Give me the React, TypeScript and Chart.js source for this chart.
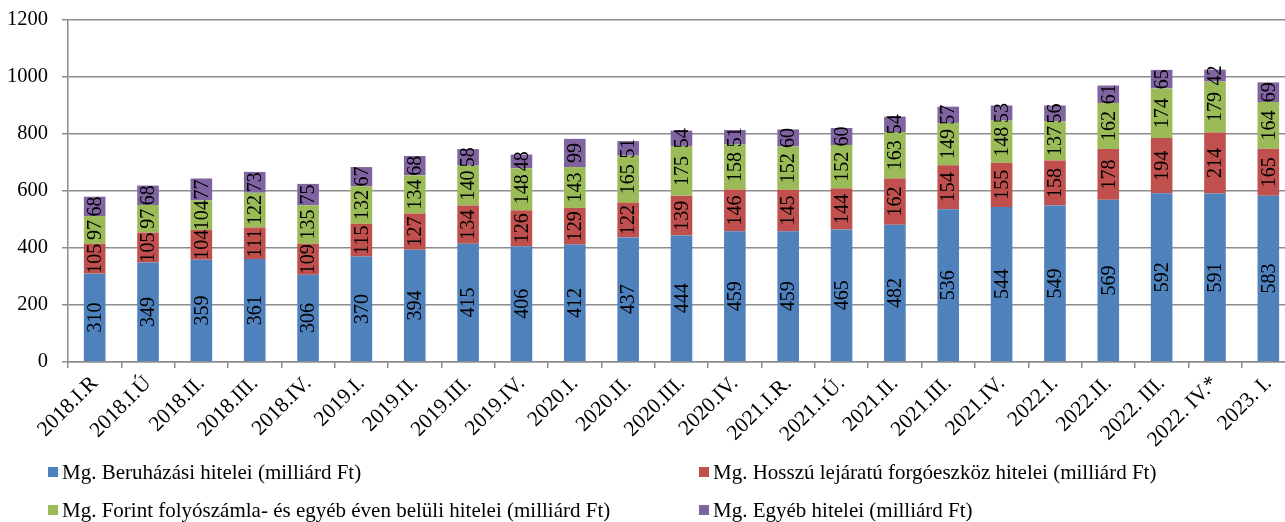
import React, { useEffect, useRef } from "react";
import { Chart, registerables } from "chart.js";

Chart.register(...registerables);

const categories = [
  "2018.I.R", "2018.I.Ú", "2018.II.", "2018.III.", "2018.IV.", "2019.I.", "2019.II.",
  "2019.III.", "2019.IV.", "2020.I.", "2020.II.", "2020.III.", "2020.IV.", "2021.I.R.",
  "2021.I.Ú.", "2021.II.", "2021.III.", "2021.IV.", "2022.I.", "2022.II.", "2022. III.",
  "2022. IV.*", "2023. I.",
];

const beruhazasi = [310, 349, 359, 361, 306, 370, 394, 415, 406, 412, 437, 444, 459, 459, 465, 482, 536, 544, 549, 569, 592, 591, 583];
const hosszu = [105, 105, 104, 111, 109, 115, 127, 134, 126, 129, 122, 139, 146, 145, 144, 162, 154, 155, 158, 178, 194, 214, 165];
const forint = [97, 97, 104, 122, 135, 132, 134, 140, 148, 143, 165, 175, 158, 152, 152, 163, 149, 148, 137, 162, 174, 179, 164];
const egyeb = [68, 68, 77, 73, 75, 67, 68, 58, 48, 99, 51, 54, 51, 60, 60, 54, 57, 53, 56, 61, 65, 42, 69];

const seriesNames = [
  "Mg. Beruházási hitelei (milliárd Ft)",
  "Mg. Hosszú lejáratú forgóeszköz hitelei (milliárd Ft)",
  "Mg. Forint folyószámla- és egyéb éven belüli hitelei (milliárd Ft)",
  "Mg. Egyéb hitelei (milliárd Ft)",
];
const seriesColors = ["#4F81BD", "#C0504D", "#9BBB59", "#8064A2"];

const yTicks = [0, 200, 400, 600, 800, 1000, 1200];

const FONT = "'Liberation Serif', 'Times New Roman', serif";

const labelPlugin = {
  id: "segLabels",
  afterDatasetsDraw(chart: any) {
    const ctx = chart.ctx;
    ctx.save();
    ctx.font = `20px ${FONT}`;
    ctx.fillStyle = "#000";
    ctx.textAlign = "center";
    ctx.textBaseline = "middle";
    chart.data.datasets.forEach((ds: any, di: number) => {
      const meta = chart.getDatasetMeta(di);
      meta.data.forEach((el: any, i: number) => {
        const v = ds.data[i];
        const cy = (el.y + el.base) / 2;
        ctx.save();
        ctx.translate(el.x, cy);
        ctx.rotate(-Math.PI / 2);
        ctx.fillText(String(v), 0, 1);
        ctx.restore();
      });
    });
    ctx.restore();
  },
};

const legendPlugin = {
  id: "customLegend",
  afterDraw(chart: any) {
    const ctx = chart.ctx;
    ctx.save();
    ctx.font = `21px ${FONT}`;
    ctx.textBaseline = "middle";
    ctx.textAlign = "left";
    const cols = [48, 699];
    const rows = [472, 510];
    seriesNames.forEach((name, i) => {
      const col = cols[i % 2];
      const row = rows[Math.floor(i / 2)];
      ctx.fillStyle = seriesColors[i];
      ctx.fillRect(col, row - 5, 10, 10);
      ctx.fillStyle = "#000";
      ctx.fillText(name, col + 14, row + 1);
    });
    ctx.restore();
  },
};

export default function App() {
  const ref = useRef<HTMLCanvasElement | null>(null);
  useEffect(() => {
    if (!ref.current) return;
    const datasets = [beruhazasi, hosszu, forint, egyeb].map((d, i) => ({
      label: seriesNames[i],
      data: d,
      backgroundColor: seriesColors[i],
      borderWidth: 0,
      categoryPercentage: 1,
      barPercentage: 0.405,
    }));
    const chart = new Chart(ref.current, {
      type: "bar",
      data: { labels: categories, datasets },
      plugins: [labelPlugin, legendPlugin],
      options: {
        animation: false,
        responsive: false,
        devicePixelRatio: 1,
        layout: { padding: { top: 20, bottom: 60, left: 0, right: 0 } },
        plugins: {
          legend: { display: false },
          tooltip: { enabled: false },
        },
        scales: {
          x: {
            stacked: true,
            afterFit: (s: any) => { s.height = 100; s.paddingLeft = 0; s.paddingRight = 0; },
            grid: {
              display: true,
              offset: true,
              drawOnChartArea: false,
              drawTicks: true,
              tickLength: 6,
              color: "#8c8c8c",
              lineWidth: 1.5,
            },
            border: { display: true, color: "#8c8c8c", width: 1.5 },
            ticks: {
              autoSkip: false,
              maxRotation: 45,
              minRotation: 45,
              color: "#000",
              font: { family: FONT, size: 21.5 },
              padding: 3,
            },
          },
          y: {
            stacked: true,
            min: 0,
            max: 1200,
            afterFit: (s: any) => { s.width = 68; s.paddingTop = 0; s.paddingBottom = 0; },
            afterBuildTicks: (s: any) => { s.ticks = yTicks.map((v) => ({ value: v })); },
            grid: {
              color: "#8c8c8c",
              lineWidth: 1.5,
              drawTicks: true,
              tickLength: 6,
            },
            border: { display: true, color: "#8c8c8c", width: 1.5 },
            ticks: {
              color: "#000",
              font: { family: FONT, size: 20.5 },
              padding: 14,
              callback: (v: any) => String(v),
            },
          },
        },
      } as any,
    });
    return () => chart.destroy();
  }, []);
  return (
    <div style={{ position: "fixed", left: 0, top: 0, width: 1285, height: 522, overflow: "hidden", background: "#fff" }}>
      <canvas ref={ref} width={1295} height={522} style={{ display: "block" }} />
    </div>
  );
}
